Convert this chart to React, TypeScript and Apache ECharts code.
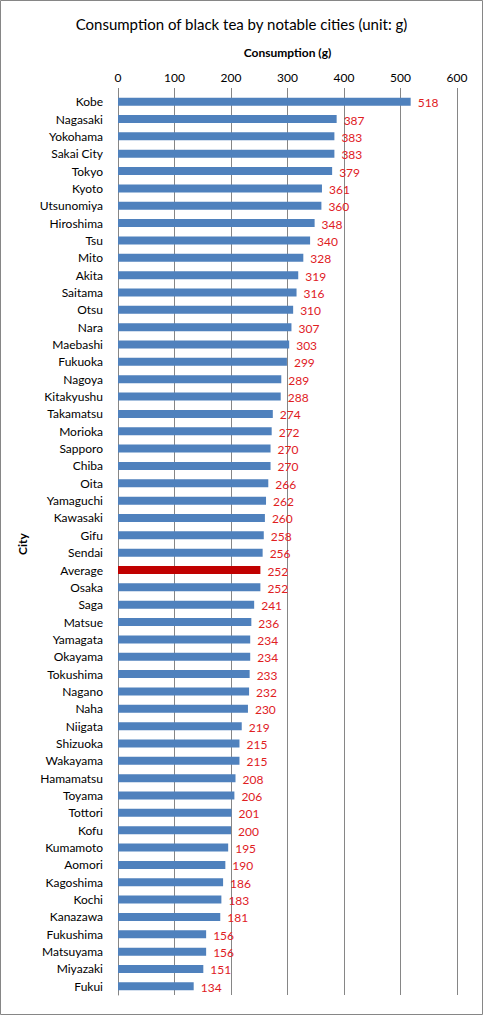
import { useEffect, useRef } from 'react';
import * as echarts from 'echarts';

const cities = [
  'Kobe', 'Nagasaki', 'Yokohama', 'Sakai City', 'Tokyo', 'Kyoto', 'Utsunomiya', 'Hiroshima', 'Tsu', 'Mito',
  'Akita', 'Saitama', 'Otsu', 'Nara', 'Maebashi', 'Fukuoka', 'Nagoya', 'Kitakyushu', 'Takamatsu', 'Morioka',
  'Sapporo', 'Chiba', 'Oita', 'Yamaguchi', 'Kawasaki', 'Gifu', 'Sendai', 'Average', 'Osaka', 'Saga',
  'Matsue', 'Yamagata', 'Okayama', 'Tokushima', 'Nagano', 'Naha', 'Niigata', 'Shizuoka', 'Wakayama', 'Hamamatsu',
  'Toyama', 'Tottori', 'Kofu', 'Kumamoto', 'Aomori', 'Kagoshima', 'Kochi', 'Kanazawa', 'Fukushima', 'Matsuyama',
  'Miyazaki', 'Fukui',
];

const consumption = [
  518, 387, 383, 383, 379, 361, 360, 348, 340, 328,
  319, 316, 310, 307, 303, 299, 289, 288, 274, 272,
  270, 270, 266, 262, 260, 258, 256, 252, 252, 241,
  236, 234, 234, 233, 232, 230, 219, 215, 215, 208,
  206, 201, 200, 195, 190, 186, 183, 181, 156, 156,
  151, 134,
];

const highlighted = ['Average'];

const FONT = 'Lato, "Open Sans", sans-serif';

export default function App() {
  const chartRef = useRef<HTMLDivElement>(null);

  useEffect(() => {
    if (!chartRef.current) return;
    const chart = echarts.init(chartRef.current, undefined, { renderer: 'svg' });

    const option: echarts.EChartsOption = {
      animation: false,
      backgroundColor: '#fff',
      textStyle: { fontFamily: FONT },
      title: {
        text: 'Consumption of black tea by notable cities (unit: g)',
        left: 'center',
        top: 11,
        textStyle: { fontSize: 15, fontWeight: 'normal', color: '#000', fontFamily: FONT },
      },
      graphic: [
        {
          type: 'rect',
          shape: { x: 0.5, y: 0.5, width: 482, height: 1014 },
          style: { fill: 'none', stroke: '#868686', lineWidth: 1 },
          silent: true,
        },
      ],
      grid: { left: 118, right: 26, top: 93, bottom: 20 },
      xAxis: {
        type: 'value',
        position: 'top',
        min: 0,
        max: 600,
        interval: 100,
        name: 'Consumption (g)',
        nameLocation: 'middle',
        nameGap: 35,
        nameTextStyle: { fontSize: 12, fontWeight: 'bold', color: '#000', fontFamily: FONT },
        axisLine: { show: false },
        axisTick: { show: true, length: 5, lineStyle: { color: '#868686' } },
        axisLabel: { fontSize: 12, color: '#000', margin: 10, fontFamily: FONT },
        splitLine: { show: true, lineStyle: { color: '#868686', width: 1 } },
      },
      yAxis: {
        type: 'category',
        inverse: true,
        data: cities,
        name: 'City',
        nameLocation: 'middle',
        nameRotate: 90,
        nameGap: 83,
        nameTextStyle: { fontSize: 12, fontWeight: 'bold', color: '#000', fontFamily: FONT },
        axisLine: { show: true, lineStyle: { color: '#868686' } },
        axisTick: { show: false },
        axisLabel: { fontSize: 12, color: '#000', margin: 15, interval: 0, fontFamily: FONT },
      },
      series: [
        {
          type: 'bar',
          barWidth: 8,
          data: consumption.map((v, i) => ({
            value: v,
            itemStyle: { color: highlighted.includes(cities[i]) ? '#C00000' : '#4F81BD' },
          })),
          label: {
            show: true,
            position: 'right',
            distance: 7,
            offset: [0, 1],
            color: '#E0201F',
            fontSize: 12,
            fontFamily: FONT,
          },
        },
      ],
    };

    chart.setOption(option);
    return () => chart.dispose();
  }, []);

  return (
    <div
      ref={chartRef}
      style={{ position: 'fixed', left: 0, top: 0, width: 483, height: 1015 }}
    ></div>
  );
}
